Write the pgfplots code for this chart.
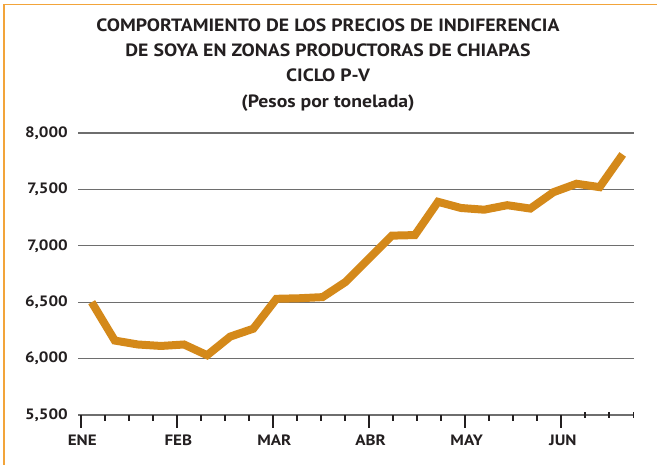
\documentclass[border=0pt]{standalone}
\usepackage{pgfplots}
\pgfplotsset{compat=1.18}
\usepackage{fontspec}
\setmainfont{PT Sans}
\newfontfamily\titlefont[FakeStretch=1.11]{PT Sans}
\newfontfamily\tickfont[FakeStretch=1.13]{PT Sans}
\definecolor{linecol}{HTML}{D4891A}
\definecolor{bordercol}{HTML}{F2A43A}
\definecolor{gridcol}{HTML}{6E6E6E}
\definecolor{txt}{HTML}{231F20}
\begin{document}
\begin{tikzpicture}
\path[use as bounding box] (0pt,0pt) rectangle (657pt,465pt);
\draw[bordercol, line width=1.5pt] (4pt,0pt) -- (4pt,460.5pt) -- (657pt,460.5pt);
\begin{scope}[every node/.style={txt, font=\titlefont\bfseries\fontsize{17.8}{20}\selectfont, anchor=base}]
\node at (328pt,433pt) {COMPORTAMIENTO DE LOS PRECIOS DE INDIFERENCIA};
\node at (328pt,408pt) {DE SOYA EN ZONAS PRODUCTORAS DE CHIAPAS};
\node at (328pt,383pt) {CICLO P-V};
\node at (328pt,357.5pt) {(Pesos por tonelada)};
\end{scope}
\begin{axis}[
  at={(78.3pt,50pt)}, anchor=south west,
  scale only axis, width=555.7pt, height=282pt,
  xmin=-0.580, xmax=23.49, ymin=5500, ymax=8000,
  axis line style={draw=none},
  clip=false,
  ytick={5500,6000,6500,7000,7500,8000},
  ymajorgrids, grid style={gridcol, line width=1.3pt},
  y tick style={draw=none},
  yticklabel style={font=\tickfont\bfseries\fontsize{15}{15}\selectfont, txt, xshift=6pt},
  /pgf/number format/assume math mode=true,
  /pgf/number format/1000 sep={,},
  xtick={-0.476,3.687,7.850,12.014,16.177,20.341},
  xticklabels={ENE,FEB,MAR,ABR,MAY,JUN},
  minor xtick={0.564,1.605,2.646,4.728,5.769,6.810,8.891,9.932,10.973,13.055,14.096,15.137,17.218,18.259,19.300},
  extra x ticks={21.382,22.423,23.464},
  extra x tick labels={},
  extra x tick style={major tick length=6pt, tick align=center},
  xmajorgrids=false,
  tick align=outside,
  major tick length=13pt, minor tick length=6pt,
  x tick style={txt, line width=1.8pt},
  xtick pos=bottom, ytick pos=left,
  xticklabel style={font=\tickfont\bfseries\fontsize{15}{15}\selectfont, txt, yshift=-3pt, xshift=1.5pt},
]
\addplot[linecol, line width=8pt, line join=miter] coordinates {
(0,6500) (1,6160) (2,6125) (3,6112) (4,6125) (5,6030) (6,6195) (7,6265)
(8,6530) (9,6535) (10,6545) (11,6680) (12,6885) (13,7090) (14,7095) (15,7390)
(16,7335) (17,7320) (18,7360) (19,7330) (20,7475) (21,7550) (22,7520) (23,7810)
};
\end{axis}
\end{tikzpicture}
\end{document}
